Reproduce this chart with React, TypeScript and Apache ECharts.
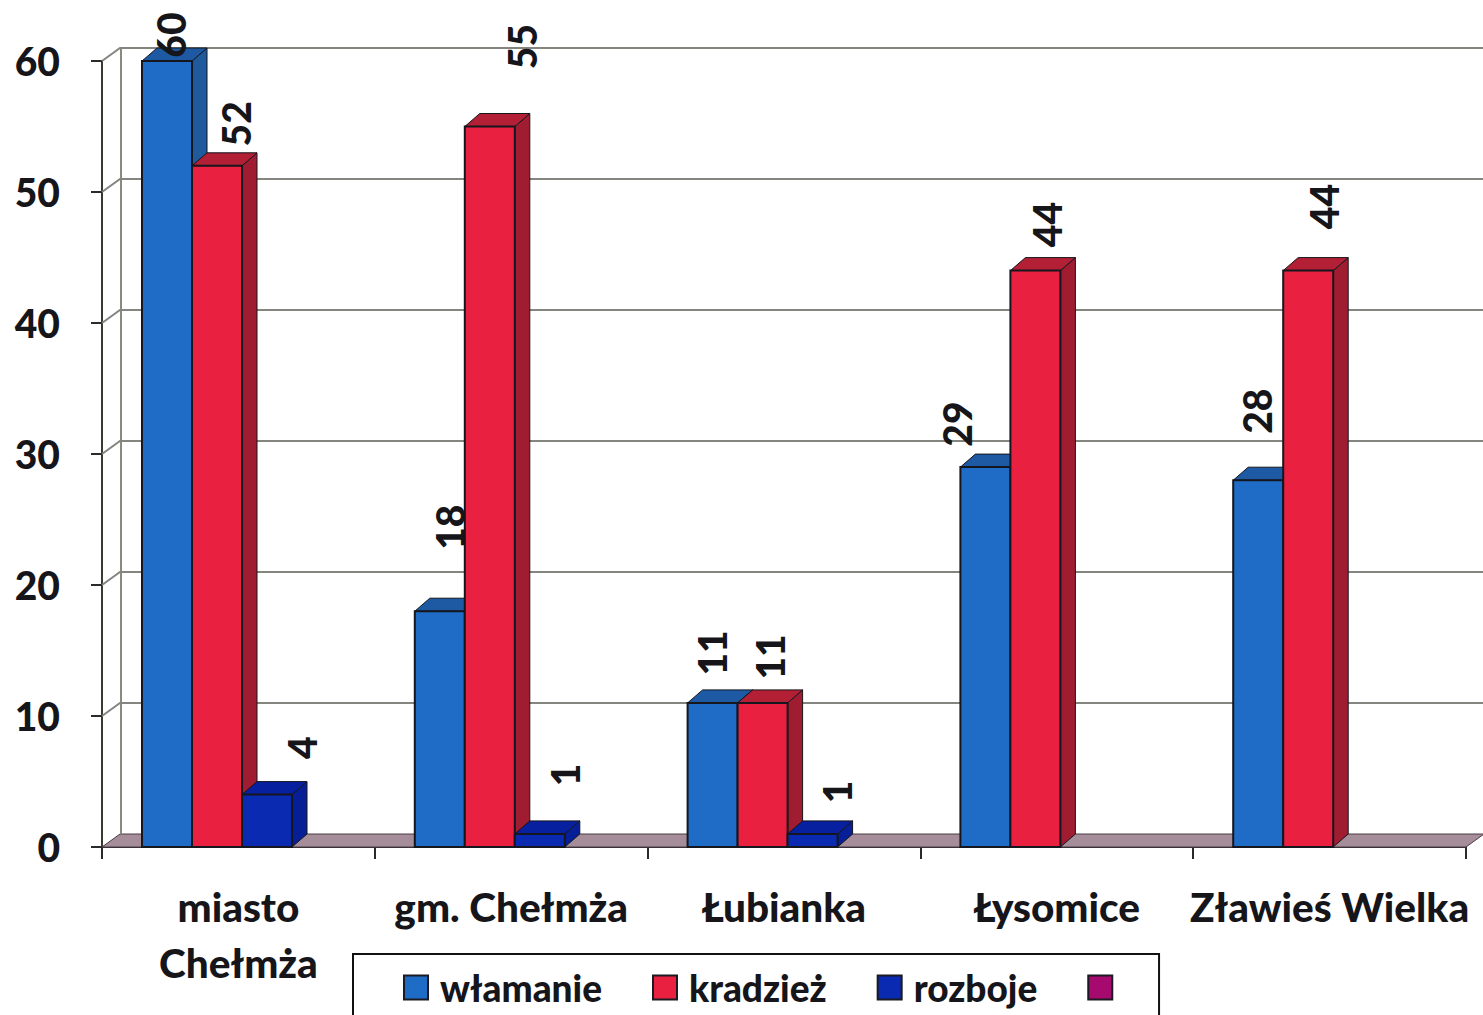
import React, { useEffect, useRef } from "react";
import * as echarts from "echarts";

const categories = ["miasto\nChełmża", "gm. Chełmża", "Łubianka", "Łysomice", "Zławieś Wielka"];
const yTicks = [0, 10, 20, 30, 40, 50, 60];
const wlamanie = [60, 18, 11, 29, 28];
const kradziez = [52, 55, 11, 44, 44];
const rozboje = [4, 1, 1, null, null];
const pusta: (number | null)[] = [];

// hand-placed data label offsets from the bar's top centre, as in the source chart
const wlamanieLabelNudge = [[5, -26], [11, -84], [0, -50], [-27, -43], [0, -69]];
const kradziezLabelNudge = [[20, -42], [33, -80], [8, -46], [13, -46], [17, -64]];
const rozbojeLabelNudge = [[36, -47], [26, -59], [25, -42], [0, 0], [0, 0]];

const FONT = "Lato";
const WEIGHT = 900;
const BAR_W = 50;
const BAR_START = 40;
const DX = 15;
const DY = 13;
const WALL_DX = 18;

function barSeries(
  name: string,
  values: (number | null)[],
  slot: number,
  front: string,
  side: string,
  top: string,
  nudges: number[][],
) {
  return {
    type: "custom",
    name,
    coordinateSystem: "cartesian2d",
    encode: { x: 0, y: 1 },
    itemStyle: { color: front, borderColor: "#1a1a22", borderWidth: 1.5 },
    clip: false,
    data: values
      .map((v, i) => [i, v])
      .filter((d) => d[1] !== null),
    renderItem: (params: any, api: any) => {
      const cat = api.value(0);
      const val = api.value(1);
      const band = api.size([1, 0])[0];
      const p = api.coord([cat, val]);
      const base = api.coord([cat, 0]);
      const x0 = p[0] - band / 2 + BAR_START + slot * BAR_W;
      const x1 = x0 + BAR_W;
      const y0 = p[1];
      const y1 = base[1];
      const stroke = "#16161e";
      const n = nudges[cat] || [0, 0];
      return {
        type: "group",
        children: [
          {
            type: "polygon",
            shape: { points: [[x1, y0], [x1 + DX, y0 - DY], [x1 + DX, y1 - DY], [x1, y1]] },
            style: { fill: side, stroke, lineWidth: 1 },
          },
          {
            type: "polygon",
            shape: { points: [[x0, y0], [x0 + DX, y0 - DY], [x1 + DX, y0 - DY], [x1, y0]] },
            style: { fill: top, stroke, lineWidth: 1 },
          },
          {
            type: "rect",
            shape: { x: x0, y: y0, width: BAR_W, height: y1 - y0 },
            style: { fill: front, stroke, lineWidth: 2 },
          },
          {
            type: "text",
            x: (x0 + x1) / 2 + n[0] - 1,
            y: y0 + n[1],
            rotation: Math.PI / 2,
            z2: 100,
            style: {
              text: String(val),
              fill: "#15151a",
              font: `${WEIGHT} 39px ${FONT}`,
              align: "center",
              verticalAlign: "middle",
            },
          },
        ],
      };
    },
  };
}

const wallSeries = {
  type: "custom",
  name: "wall",
  coordinateSystem: "cartesian2d",
  encode: { x: 0, y: 1 },
  silent: true,
  clip: false,
  z: 1,
  data: yTicks.map((t) => [0, t]),
  renderItem: (params: any, api: any) => {
    const val = api.value(1);
    const y = api.coord([0, val])[1];
    const cs = params.coordSys;
    const left = cs.x;
    const right = cs.x + cs.width;
    const children: any[] = [];
    if (val === 0) {
      const top = api.coord([0, yTicks[yTicks.length - 1]])[1];
      children.push({
        type: "polygon",
        shape: {
          points: [[left, y], [left + WALL_DX, y - DY], [right + WALL_DX, y - DY], [right, y]],
        },
        style: { fill: "#a58d99", stroke: "#4a3c46", lineWidth: 1 },
      });
      children.push({
        type: "line",
        shape: { x1: left + WALL_DX + 1, y1: y - DY, x2: left + WALL_DX + 1, y2: top - DY },
        style: { stroke: "#8a8a80", lineWidth: 2 },
      });
    } else {
      children.push({
        type: "polyline",
        shape: { points: [[left, y], [left + WALL_DX, y - DY], [right + WALL_DX, y - DY]] },
        style: { stroke: "#85857f", lineWidth: 2, fill: "none" },
      });
    }
    return { type: "group", children };
  },
};

const option: any = {
  animation: false,
  backgroundColor: "#ffffff",
  grid: { left: 102, top: 61, right: 17, bottom: 168, containLabel: false },
  xAxis: {
    type: "category",
    data: categories,
    axisLine: { show: true, lineStyle: { color: "#2a2a2a", width: 2 } },
    axisTick: { show: true, length: 12, lineStyle: { color: "#2a2a2a", width: 2 } },
    axisLabel: {
      show: true,
      interval: 0,
      color: "#15151a",
      fontFamily: FONT,
      fontWeight: WEIGHT,
      fontSize: 40.5,
      margin: 31,
      lineHeight: 56,
      verticalAlign: "top",
    },
  },
  yAxis: {
    type: "value",
    min: 0,
    max: 60,
    interval: 10,
    splitLine: { show: false },
    axisLine: { show: true, lineStyle: { color: "#3a3a30", width: 2 } },
    axisTick: { show: true, length: 11, lineStyle: { color: "#2a2a2a", width: 2 } },
    axisLabel: {
      color: "#15151a",
      fontFamily: FONT,
      fontWeight: WEIGHT,
      fontSize: 39,
      margin: 42,
    },
  },
  legend: {
    left: 353,
    top: 954,
    orient: "horizontal",
    data: ["włamanie", "kradzież", "rozboje", " "],
    icon: "rect",
    itemWidth: 24,
    itemHeight: 24,
    itemGap: 50,
    padding: [15, 26, 22, 50],
    borderColor: "#111",
    borderWidth: 2,
    backgroundColor: "#fff",
    selectedMode: false,
    textStyle: {
      color: "#15151a",
      fontFamily: FONT,
      fontWeight: WEIGHT,
      fontSize: 37,
      padding: [0, 0, 0, 7],
    },
  },
  series: [
    wallSeries,
    { ...barSeries("włamanie", wlamanie, 0, "#1f6cc6", "#1f5a9c", "#1d5aa3", wlamanieLabelNudge), z: 2 },
    { ...barSeries("kradzież", kradziez, 1, "#e9203f", "#a01c30", "#b31f34", kradziezLabelNudge), z: 2 },
    { ...barSeries("rozboje", rozboje, 2, "#0a2ab2", "#061f96", "#07209f", rozbojeLabelNudge), z: 2 },
    { ...barSeries(" ", pusta, 3, "#a60a6e", "#7a0850", "#8a0a5c", []), z: 2 },
  ],
};

export default function App() {
  const ref = useRef<HTMLDivElement>(null);
  useEffect(() => {
    document.body.style.margin = "0";
    const chart = echarts.init(ref.current!, undefined, { renderer: "svg" });
    chart.setOption(option);
    return () => chart.dispose();
  }, []);
  return <div ref={ref} style={{ width: 1483, height: 1015 }} />;
}
